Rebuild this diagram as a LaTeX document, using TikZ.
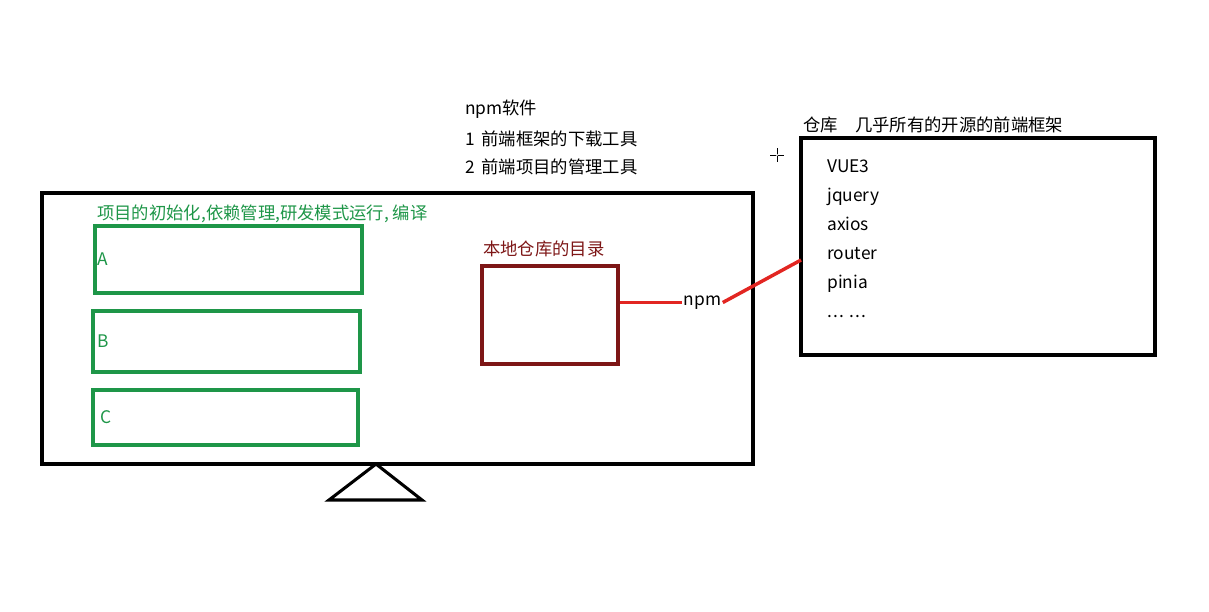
\documentclass[tikz,border=0pt]{standalone}
\usepackage{fontspec}
\setmainfont{Noto Sans CJK SC}
\definecolor{projgreen}{RGB}{30,150,72}
\definecolor{dirred}{RGB}{125,22,22}
\definecolor{linkred}{RGB}{226,38,34}

\begin{document}
\begin{tikzpicture}[x=0.75pt,y=-0.75pt,font=\fontsize{13}{15}\selectfont,
    frame/.style={draw=black,line width=2.3pt},
    modbox/.style={draw=projgreen,line width=2.6pt,inner sep=0pt},
    dirbox/.style={draw=dirred,line width=2.6pt,inner sep=0pt},
    link/.style={draw=linkred,line width=2.6pt},
    txt/.style={anchor=west,inner sep=0pt}]
    \useasboundingbox (0,0) rectangle (1209,611);

    % npm as a tool
    \foreach \i/\y/\t in {0/109/npm软件,1/139/1\, 前端框架的下载工具,2/167/2\, 前端项目的管理工具} {
      \node[txt] (tool-\i) at (465,\y) {\t};
    }

    % the developer's computer
    \node[frame,minimum width=533.25pt,minimum height=203.25pt,inner sep=0pt] (screen) at (397.5,328.5) {};
    \draw[frame,line join=miter] (376,464) -- (422,500) -- (329,500) -- cycle;
    \node[txt,text=projgreen] (projtitle) at (97,214) {项目的初始化,依赖管理,研发模式运行, 编译};
    \foreach \n/\cx/\cy/\w/\h/\lx in {A/228.5/259.5/200.25/50.25/97,B/226.5/341.5/200.25/45.75/97,C/225.5/417.5/198.75/41.25/100} {
      \node[modbox,minimum width=\w pt,minimum height=\h pt] (proj\n) at (\cx,\cy) {};
      \node[txt,text=projgreen] (lbl\n) at (\lx,\cy) {\n};
    }
    \node[dirbox,minimum width=102pt,minimum height=73.5pt] (localdir) at (550,315) {};
    \node[txt,text=dirred] (localtitle) at (483,249) {本地仓库的目录};

    % remote repository
    \node[frame,minimum width=265.5pt,minimum height=162.75pt,inner sep=0pt] (repo) at (978,246.5) {};
    \node[txt] (repotitle) at (803,125) {仓库\hspace{1em}几乎所有的开源的前端框架};
    \foreach \i/\t in {0/VUE3,1/jquery,2/axios,3/router,4/pinia,5/{.\kern1pt.\kern1pt. .\kern1pt.\kern1pt.}} {
      \node[txt,anchor=base west] (pkg-\i) at (827,172+29*\i) {\t};
    }

    % npm link
    \node[inner sep=1pt] (npm) at (702.5,302.5) {npm};
    \coordinate (repo-in) at (801,260);
    \draw[link] (localdir.east |- npm.west) -- (npm.west);
    \draw[link] (npm.east) -- (repo-in);

    % cursor
    \draw[line width=0.6pt] (770,155) -- (784,155) (777,148) -- (777,162);
    \fill[white] (777,155) circle (1.2);
  \end{tikzpicture}
\end{document}
